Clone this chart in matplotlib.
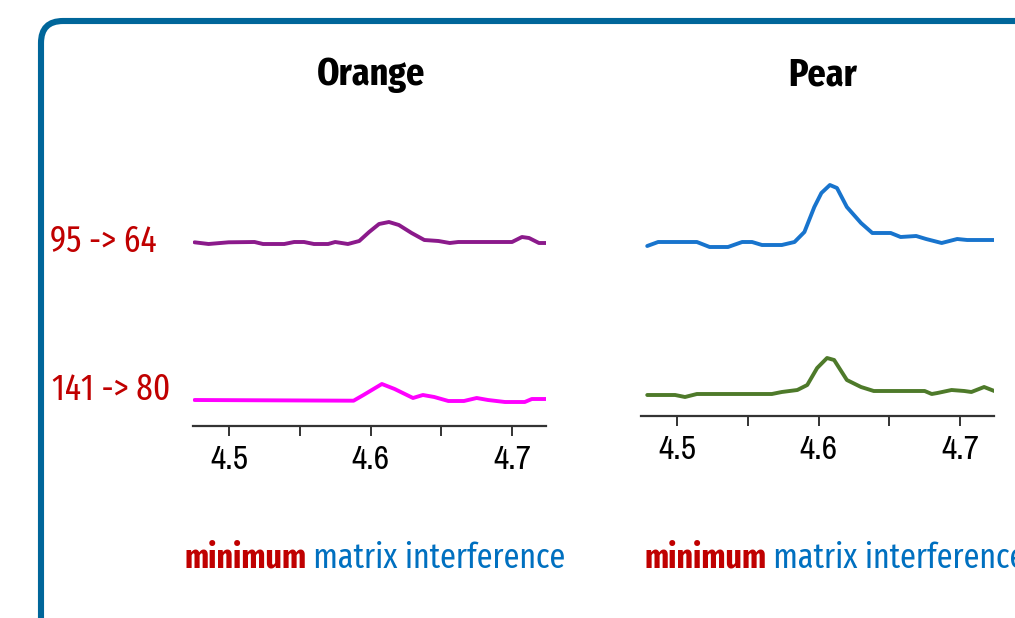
import matplotlib
matplotlib.use("Agg")
import matplotlib.pyplot as plt
from matplotlib.patches import FancyBboxPatch

# retention time (min) and signal above local baseline
orange_t_95 = [4.4756, 4.4855, 4.4997, 4.518, 4.524, 4.539, 4.546, 4.553, 4.560, 4.570,
               4.575, 4.584, 4.592, 4.599, 4.606, 4.613, 4.620, 4.629, 4.638, 4.648,
               4.656, 4.662, 4.700, 4.707, 4.712, 4.719, 4.724]
orange_y_95 = [1.7, 0, 1.7, 2, 0, 0, 2, 2, 0, 0,
               2, 0, 3, 12, 20, 22, 19, 11, 4, 3,
               1, 2, 2, 7, 6, 1, 1]

orange_t_141 = [4.4756, 4.588, 4.595, 4.608, 4.617, 4.630, 4.637, 4.645, 4.655, 4.666,
                4.675, 4.683, 4.695, 4.709, 4.714, 4.724]
orange_y_141 = [1, 0.3, 6, 17, 12, 3, 6, 4, 0, 0, 3, 1, -1, -1, 2, 2]

pear_t_95 = [4.4789, 4.4866, 4.514, 4.523, 4.536, 4.546, 4.553, 4.560, 4.574, 4.583,
             4.590, 4.597, 4.602, 4.608, 4.613, 4.620, 4.630, 4.638, 4.651, 4.658,
             4.669, 4.676, 4.687, 4.698, 4.705, 4.726]
pear_y_95 = [1, 5, 5, 0, 0, 5, 5, 2, 2, 5,
             15, 40, 54, 62, 59, 40, 24, 14, 14, 10,
             11, 8, 4, 8, 7, 7]

pear_t_141 = [4.4789, 4.4986, 4.5056, 4.514, 4.567, 4.574, 4.585, 4.592, 4.599, 4.606,
              4.611, 4.620, 4.630, 4.639, 4.675, 4.680, 4.684, 4.694, 4.703, 4.708,
              4.717, 4.726]
pear_y_141 = [2, 2, 0, 3, 3, 5, 7, 12, 29, 39,
              37, 17, 10, 6, 6, 3, 4, 7, 6, 5,
              10, 5]

panel_titles = ["Orange", "Pear"]
transitions = ["95 -> 64", "141 -> 80"]
tick_vals = [4.5, 4.6, 4.7]
minor_vals = [4.55, 4.65]

RED = "#C00000"
BLUE_TXT = "#0070C0"
FRAME = "#00669A"
COND = "Fira Sans Extra Condensed"
NARROW = "Archivo Narrow"

W, H = 1015, 618
fig = plt.figure(figsize=(W / 100, H / 100), dpi=100)

# rounded frame running off the right and bottom edges
frame = FancyBboxPatch((41, -100), 1100, 597 + 100,
                       boxstyle="round,pad=0,rounding_size=22",
                       transform=None, fill=False, edgecolor=FRAME, linewidth=4.4)
fig.patches.append(frame)


def make_panel(left_px, axis_px, series, title, title_x):
    ax = fig.add_axes([left_px / W, 1 - axis_px / H, 353 / W, 266 / H])
    for t, y, base, col in series:
        ax.plot(t, [base + v for v in y], color=col, lw=2.8,
                solid_joinstyle="round", solid_capstyle="round")
    ax.set_xlim(4.4745, 4.724)
    ax.set_ylim(0, 266)
    for s in ("left", "right", "top"):
        ax.spines[s].set_visible(False)
    ax.spines["bottom"].set_linewidth(1.6)
    ax.spines["bottom"].set_color("#333333")
    ax.set_yticks([])
    ax.set_xticks(tick_vals)
    ax.set_xticks(minor_vals, minor=True)
    ax.set_xticklabels([f"{v:.1f}" for v in tick_vals], fontfamily=NARROW, fontsize=24)
    ax.tick_params(axis="x", which="both", length=7, width=1.4, color="#333333", pad=7)
    ax.set_facecolor("none")
    fig.text(title_x / W, 1 - 75 / H, title, ha="center", va="center",
             fontfamily=COND, fontweight="bold", fontsize=28, color="black")
    return ax


make_panel(193, 426, [(orange_t_95, orange_y_95, 182, "#8B1A8B"),
                      (orange_t_141, orange_y_141, 25, "#FF00FF")],
           panel_titles[0], 371)
make_panel(641, 416, [(pear_t_95, pear_y_95, 169, "#1874CD"),
                      (pear_t_141, pear_y_141, 19, "#4E7A2A")],
           panel_titles[1], 823)

# transition labels
fig.text(50 / W, 1 - 242 / H, transitions[0], ha="left", va="center",
         fontfamily=COND, fontsize=26, color=RED)
fig.text(52 / W, 1 - 390 / H, transitions[1], ha="left", va="center",
         fontfamily=COND, fontsize=26, color=RED)

# footnotes under each panel
for x0 in (184, 644):
    t1 = fig.text(x0 / W, 1 - 567 / H, "minimum", ha="left", va="baseline",
                  fontfamily=COND, fontweight="bold", fontsize=25, color=RED)
    fig.add_artist(plt.Annotation(" matrix interference", xy=(1, 0), xycoords=t1,
                                  xytext=(0, 0), textcoords="offset points",
                                  ha="left", va="bottom", fontfamily=COND, fontsize=25,
                                  color=BLUE_TXT, annotation_clip=False))

fig.savefig("out.png", dpi=100)
